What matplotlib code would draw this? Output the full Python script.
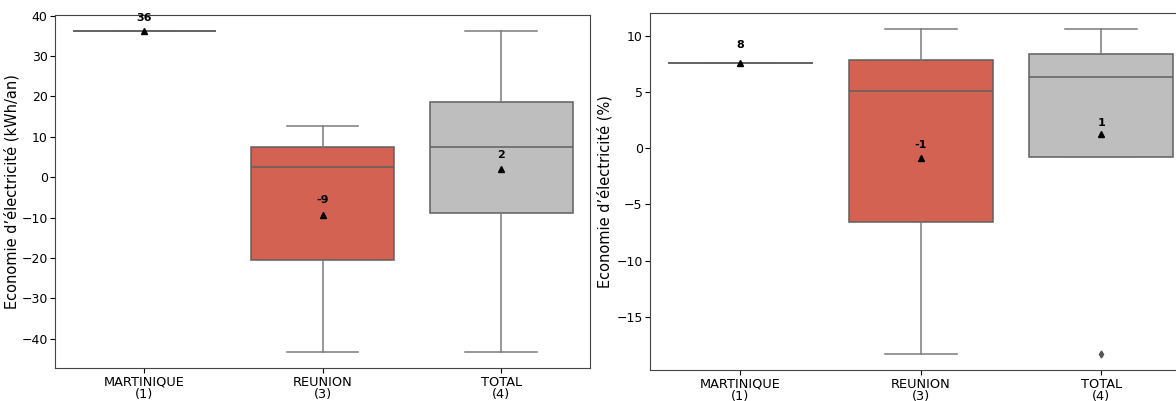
import matplotlib
matplotlib.use("Agg")
import matplotlib.pyplot as plt
import numpy as np

# individual values read back from the boxes (1 / 3 / 4 observations)
categories = ["MARTINIQUE\n(1)", "REUNION\n(3)", "TOTAL\n(4)"]
kwh_martinique = [36.2]
kwh_reunion = [-43.3, 2.5, 12.6]
pct_martinique = [7.6]
pct_reunion = [-18.3, 5.1, 10.6]

kwh_data = [kwh_martinique, kwh_reunion, kwh_martinique + kwh_reunion]
pct_data = [pct_martinique, pct_reunion, pct_martinique + pct_reunion]

box_colors = ["#9a9a9a", "#d46252", "#bebebe"]
line_col = "#5f5f5f"


def draw_panel(ax, data, ylabel, label_offsets, ypad):
    pos = np.arange(len(data))
    bp = ax.boxplot(data, positions=pos, widths=0.8, patch_artist=True,
                    showmeans=True, whis=1.5,
                    medianprops=dict(color=line_col, lw=1.1),
                    whiskerprops=dict(color="#7a7a7a", lw=1.1),
                    capprops=dict(color="#7a7a7a", lw=1.1),
                    boxprops=dict(edgecolor=line_col, lw=1.1),
                    meanprops=dict(marker="^", markerfacecolor="black",
                                   markeredgecolor="black", markersize=5),
                    flierprops=dict(marker="d", markerfacecolor="#555555",
                                    markeredgecolor="#555555", markersize=3.5))
    for patch, c in zip(bp["boxes"], box_colors):
        patch.set_facecolor(c)
    # cap width = half the box width
    for i, cap in enumerate(bp["caps"]):
        p = pos[i // 2]
        cap.set_xdata([p - 0.2, p + 0.2])
    # mean value written above each mean marker
    for p, vals, off in zip(pos, data, label_offsets):
        m = np.mean(vals)
        ax.annotate("{}".format(int(round(m))), xy=(p, m), xytext=(0, off),
                    textcoords="offset points", ha="center", va="center",
                    fontsize=8, fontweight="bold")
    ax.set_xticks(pos)
    ax.set_xticklabels(categories, fontsize=9.3, linespacing=0.9)
    ax.tick_params(axis="x", pad=2)
    ax.tick_params(axis="y", labelsize=9, pad=2)
    ax.set_xlim(-0.5, len(data) - 0.5)
    ax.set_ylabel(ylabel, fontsize=10.5, labelpad=ypad)
    for s in ax.spines.values():
        s.set_color("#444444")


fig = plt.figure(figsize=(11.76, 4.01), dpi=100)
ax1 = fig.add_axes([0.047, 0.082, 0.455, 0.881])
ax2 = fig.add_axes([0.553, 0.077, 0.46, 0.891])

draw_panel(ax1, kwh_data, "Economie d\u2019\u00e9lectricit\u00e9 (kWh/an)", [9, 11, 10], 1)
draw_panel(ax2, pct_data, "Economie d\u2019\u00e9lectricit\u00e9 (%)", [13, 9, 8], 3)

fig.savefig("out.png", dpi=100)
